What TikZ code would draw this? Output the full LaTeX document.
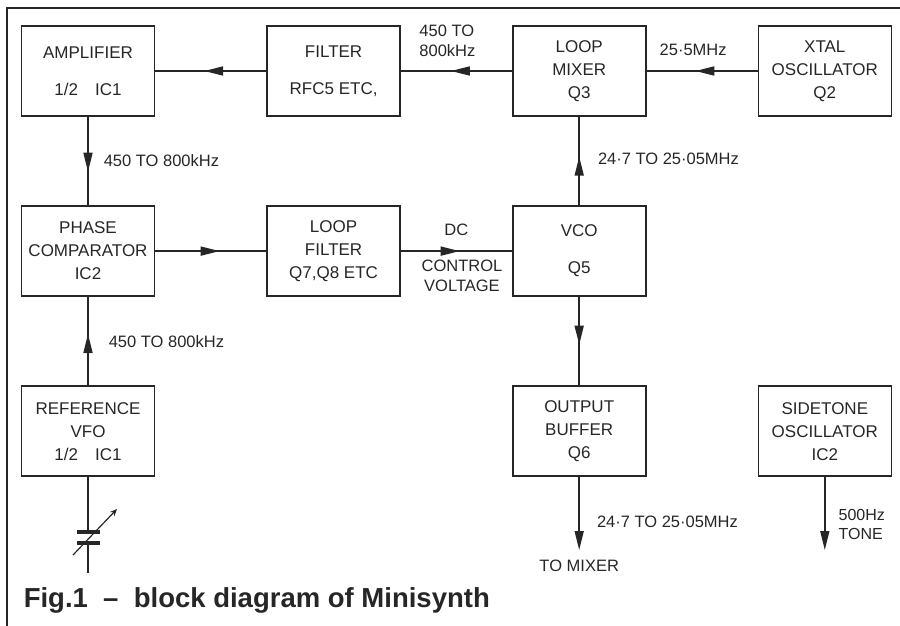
\documentclass[tikz,border=0pt]{standalone}
\usepackage{fontspec}
\setmainfont{Liberation Sans}
\usetikzlibrary{arrows.meta, positioning, decorations.markings}
\definecolor{cink}{HTML}{262626}
\tikzset{
  every picture/.style={line width=1.6pt, color=cink},
  blk/.style={draw=cink, minimum width=133pt, minimum height=90pt, align=center, inner sep=2pt, font=\fontsize{17}{23}\selectfont},
  lbl/.style={font=\fontsize{16.5}{20}\selectfont, inner sep=0pt, align=left},
  flow/.style={draw=cink, postaction={decorate}, decoration={markings, mark=at position #1 with {\arrow{Triangle[length=19pt, width=9pt]}}}},
  flow/.default=0.57,
  outarrow/.style={-{Triangle[length=19pt, width=9pt]}, draw=cink},
  caption/.style={font=\fontsize{27.5}{32}\selectfont\bfseries, anchor=base west, inner sep=0pt},
}
\begin{document}
\begin{tikzpicture}[x=1pt, y=-1pt, node distance=88.5pt and 111pt]
  \useasboundingbox (0,0) rectangle (900,626);
  \draw (7,626) -- (7,8) -- (900,8);
  \node[blk] (amp) at (88,71) {AMPLIFIER\\[14pt]1/2\quad IC1};
  \node[blk, right=of amp] (filt) {FILTER\\[14pt]RFC5 ETC,};
  \node[blk, right=of filt] (mix) {LOOP\\MIXER\\Q3};
  \node[blk, right=of mix] (xtal) {XTAL\\OSCILLATOR\\Q2};
  \node[blk, below=of amp] (pcomp) {PHASE\\COMPARATOR\\IC2};
  \node[blk, below=of filt] (lpf) {LOOP\\FILTER\\Q7,Q8 ETC};
  \node[blk, below=of mix] (vco) {VCO\\[14pt]Q5};
  \node[blk, below=of pcomp] (vfo) {REFERENCE\\VFO\\1/2\quad IC1};
  \node[blk, below=of vco] (buf) {OUTPUT\\BUFFER\\Q6};
  \node[blk, right=of buf] (side) {SIDETONE\\OSCILLATOR\\IC2};
  \draw[flow=0.56] (filt) -- (amp);
  \draw[flow=0.55] (mix) -- (filt) node[lbl, pos=0.84, anchor=south west, yshift=14pt] {450 TO\\800kHz};
  \draw[flow=0.56] (xtal) -- (mix) node[lbl, pos=0.58, anchor=south, yshift=15pt] {25·5MHz};
  \draw[flow=0.62] (amp) -- (pcomp) node[lbl, pos=0.49, anchor=west, xshift=15pt] {450 TO 800kHz};
  \draw[flow=0.58] (pcomp) -- (lpf);
  \draw[flow=0.53] (lpf) -- (vco)
    node[lbl, pos=0.5, anchor=south, yshift=15pt] {DC}
    node[lbl, pos=0.55, anchor=north, yshift=-8pt, align=center] {CONTROL\\VOLTAGE};
  \draw[flow=0.55] (vco) -- (mix) node[lbl, pos=0.52, anchor=west, xshift=18pt] {24·7 TO 25·05MHz};
  \draw[flow=0.54] (vco) -- (buf);
  \draw[flow=0.58] (vfo) -- (pcomp) node[lbl, pos=0.49, anchor=west, xshift=20pt] {450 TO 800kHz};
  \coordinate[below=73pt of buf] (bufout);
  \draw[outarrow] (buf) -- (bufout) node[lbl, pos=0.62, anchor=west, xshift=17pt] {24·7 TO 25·05MHz};
  \node[lbl, below=9pt of bufout] (tomix) {TO MIXER};
  \coordinate[below=73pt of side] (sideout);
  \draw[outarrow] (side) -- (sideout) node[lbl, pos=0.65, anchor=west, xshift=13pt, font=\fontsize{16}{19}\selectfont] {500Hz\\TONE};
  \draw (vfo) -- (88,532);
  \draw[line width=3.6pt] (77,532) -- (100,532) (77,543) -- (100,543);
  \draw (88,543) -- (88,573);
  \draw[-{Stealth[length=7pt, width=6pt]}, line width=1.2pt] (73,555) -- (117,509);
  \node[caption] (cap) at (23,607) {Fig.1 \ – \ block diagram of Minisynth};
\end{tikzpicture}
\end{document}
